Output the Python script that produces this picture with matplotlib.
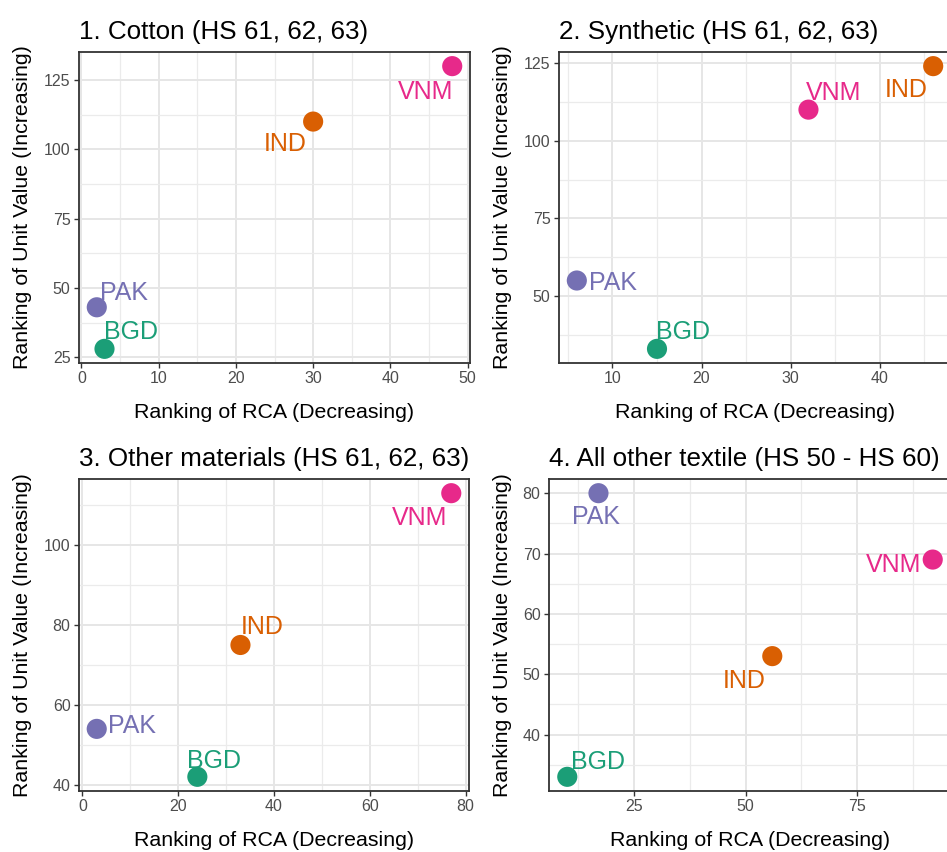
import matplotlib
matplotlib.use('Agg')
import matplotlib.pyplot as plt
from matplotlib.ticker import MultipleLocator, AutoMinorLocator
from matplotlib.transforms import blended_transform_factory

plt.rcParams['font.family'] = ['Liberation Sans', 'DejaVu Sans']

countries = ['BGD', 'IND', 'PAK', 'VNM']
colors = ['#1B9E77', '#D95F02', '#7570B3', '#E7298A']

titles = ['1. Cotton (HS 61, 62, 63)', '2. Synthetic (HS 61, 62, 63)',
          '3. Other materials (HS 61, 62, 63)', '4. All other textile (HS 50 - HS 60)']

cotton_rca = [3, 30, 2, 48]
cotton_uv = [28, 110, 43, 130]
synth_rca = [15, 46, 6, 32]
synth_uv = [33, 124, 55, 110]
other_rca = [24, 33, 3, 77]
other_uv = [42, 75, 54, 113]
textile_rca = [10, 56, 17, 92]
textile_uv = [33, 53, 80, 69]

xs = [cotton_rca, synth_rca, other_rca, textile_rca]
ys = [cotton_uv, synth_uv, other_uv, textile_uv]

# layout in pixels: left, right, top, bottom
W, H = 947, 852
boxes = [(79, 470, 52, 363), (559, 951, 52, 363),
         (79, 469, 479, 791), (549, 951, 479, 791)]
steps = [(10, 25), (10, 25), (20, 20), (25, 10)]
ylab_x = [23, 503, 23, 503]
# label offsets in pixels (dx, dy up) for BGD, IND, PAK, VNM
offsets = [
    [(27, 17), (-28, -22), (27, 14), (-27, -26)],
    [(26, 17), (-27, -24), (36, -2), (25, 17)],
    [(17, 16), (22, 18), (35, 3), (-32, -25)],
    [(31, 15), (-28, -25), (-2, -24), (-39, -5)],
]

fig = plt.figure(figsize=(W / 100, H / 100), dpi=100)

for i in range(4):
    l, r, t, b = boxes[i]
    ax = fig.add_axes([l / W, (H - b) / H, (r - l) / W, (b - t) / H])
    x, y = xs[i], ys[i]
    dx = (max(x) - min(x)) * 0.05
    dy = (max(y) - min(y)) * 0.05
    ax.set_xlim(min(x) - dx, max(x) + dx)
    ax.set_ylim(min(y) - dy, max(y) + dy)
    ax.xaxis.set_major_locator(MultipleLocator(steps[i][0]))
    ax.yaxis.set_major_locator(MultipleLocator(steps[i][1]))
    ax.xaxis.set_minor_locator(AutoMinorLocator(2))
    ax.yaxis.set_minor_locator(AutoMinorLocator(2))
    ax.grid(which='major', color='#E6E6E6', linewidth=1.4)
    ax.grid(which='minor', color='#EBEBEB', linewidth=0.9)
    ax.set_axisbelow(True)
    ax.tick_params(which='major', length=3.6, width=1.0, color='#333333',
                   labelsize=11.5, labelcolor='#4D4D4D', pad=2.5)
    ax.tick_params(which='minor', length=0)
    for s in ax.spines.values():
        s.set_color('#333333')
        s.set_linewidth(1.3)

    ax.scatter(x, y, c=colors, s=210, zorder=3, linewidths=0)
    for j in range(4):
        ax.annotate(countries[j], (x[j], y[j]), xytext=offsets[i][j],
                    textcoords='offset pixels', ha='center', va='center',
                    fontsize=18, color=colors[j], zorder=4)

    ax.set_title(titles[i], loc='left', fontsize=18.7, pad=9)
    ax.set_xlabel('Ranking of RCA (Decreasing)', fontsize=15.4)
    ax.set_ylabel('Ranking of Unit Value (Increasing)', fontsize=15.4)
    ax.xaxis.label.set_verticalalignment('center')
    ax.yaxis.label.set_verticalalignment('center')
    ax.xaxis.set_label_coords(0.5, (H - (b + 49)) / H,
                              transform=blended_transform_factory(ax.transAxes, fig.transFigure))
    ax.yaxis.set_label_coords(ylab_x[i] / W, 0.5,
                              transform=blended_transform_factory(fig.transFigure, ax.transAxes))

fig.savefig('out.png', dpi=100)
